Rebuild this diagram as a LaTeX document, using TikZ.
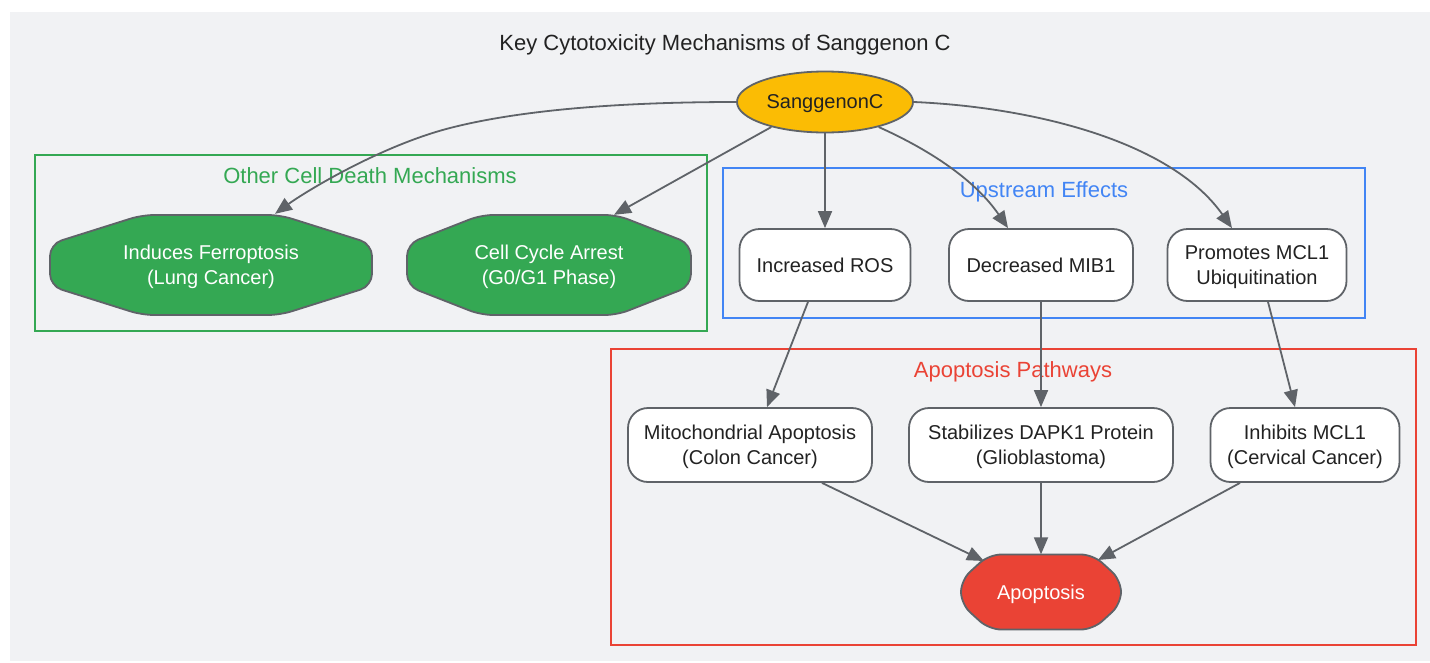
\documentclass[tikz,border=0pt]{standalone}
\usepackage{fontspec}
\setmainfont{Liberation Sans}
\usetikzlibrary{arrows.meta,shapes.geometric,calc}
\definecolor{bgc}{HTML}{F1F2F4}
\definecolor{edgec}{HTML}{5F6368}
\definecolor{txt}{HTML}{222222}
\definecolor{gr}{HTML}{34A853}
\definecolor{bl}{HTML}{4285F4}
\definecolor{rd}{HTML}{EA4335}
\definecolor{yl}{HTML}{FBBC04}
\newcommand\nodefont{\fontsize{20}{25}\selectfont}
\newcommand\bigfont{\fontsize{22}{26}\selectfont}
% octagon: cx, cy, half width, half height, slant dx, half side, fill
\newcommand\octshape[7]{%
  \draw[draw=edgec, line width=1.8pt, fill=#7, rounded corners=12pt]
    (#1-#3,#2-#6) -- (#1-#3+#5,#2-#4) -- (#1+#3-#5,#2-#4) -- (#1+#3,#2-#6)
    -- (#1+#3,#2+#6) -- (#1+#3-#5,#2+#4) -- (#1-#3+#5,#2+#4) -- (#1-#3,#2+#6) -- cycle;}
\begin{document}
\begin{tikzpicture}[x=1pt,y=-1pt,
  box/.style={draw=edgec, line width=1.8pt, fill=white, rounded corners=20pt,
    align=center, font=\nodefont, text=txt, inner sep=0pt, text depth=0pt},
  octtext/.style={align=center, font=\nodefont, text=white, inner sep=0pt, text depth=0pt},
  conn/.style={draw=edgec, line width=1.8pt, -{Triangle[length=17pt,width=14pt]}},
  cluster/.style={line width=1.8pt},
  clabel/.style={font=\bigfont, inner sep=0pt, text depth=0pt}]
\useasboundingbox (0,0) rectangle (1430,662);
\fill[bgc] (10,12) rectangle (1430,661);

% clusters
\draw[cluster, draw=gr] (35,155) rectangle (707,331);
\draw[cluster, draw=bl] (723,168) rectangle (1365,318);
\draw[cluster, draw=rd] (611,349) rectangle (1416,645);
\node[clabel, text=gr] (lgr) at (370,176) {Other Cell Death Mechanisms};
\node[clabel, text=bl] (lbl) at (1044,190) {Upstream Effects};
\node[clabel, text=rd] (lrd) at (1013,370) {Apoptosis Pathways};

% title
\node[clabel, text=txt] (title) at (725,43) {Key Cytotoxicity Mechanisms of Sanggenon C};

% source
\node[ellipse, draw=edgec, line width=1.8pt, fill=yl, minimum width=176pt,
  minimum height=61pt, inner sep=0pt, text depth=0pt, font=\nodefont, text=txt] (S) at (825,102) {SanggenonC};

% octagon nodes
\octshape{211}{265}{161}{50}{92}{21}{gr}
\node[octtext, minimum width=322pt, minimum height=100pt] (ferro) at (211,265) {Induces Ferroptosis\\(Lung Cancer)};
\octshape{549}{265}{142}{50}{74}{21}{gr}
\node[octtext, minimum width=284pt, minimum height=100pt] (cell) at (549,265) {Cell Cycle Arrest\\(G0/G1 Phase)};
\octshape{1041}{592}{80}{37.5}{28}{12}{rd}
\node[octtext, minimum width=160pt, minimum height=75pt] (apop) at (1041,592) {Apoptosis};

% upstream
\node[box, minimum width=171pt, minimum height=72pt] (ros) at (825,265) {Increased ROS};
\node[box, minimum width=184pt, minimum height=72pt] (mib) at (1041,265) {Decreased MIB1};
\node[box, minimum width=179pt, minimum height=72pt] (prom) at (1257,265) {Promotes MCL1\\Ubiquitination};

% apoptosis pathways
\node[box, minimum width=244pt, minimum height=74pt] (mito) at (750,445) {Mitochondrial Apoptosis\\(Colon Cancer)};
\node[box, minimum width=264pt, minimum height=74pt] (dapk) at (1041,445) {Stabilizes DAPK1 Protein\\(Glioblastoma)};
\node[box, minimum width=189pt, minimum height=74pt] (inh) at (1305,445) {Inhibits MCL1\\(Cervical Cancer)};

% connectors
\draw[conn] (S.west) .. controls (620,102) and (520,110) .. (450,128)
  .. controls (380,146) and (305,192) .. ($(ferro.north)+(64,-1)$);
\draw[conn] (S.205) -- ($(cell.north)+(65,0)$);
\draw[conn] (S) -- (ros.north);
\draw[conn] (S.-25) .. controls (930,150) and (975,180) .. ($(mib.north)+(-33,0)$);
\draw[conn] (S.east) .. controls (1030,107) and (1170,140) .. ($(prom.north)+(-25,0)$);

\draw[conn] ($(ros.south)+(-17,0)$) -- ($(mito.north)+(17,0)$);
\draw[conn] (mib.south) -- (dapk.north);
\draw[conn] ($(prom.south)+(11,0)$) -- ($(inh.north)+(-10,0)$);

\draw[conn] ($(mito.south)+(72,0)$) -- ($(apop.center)+(-57,-31)$);
\draw[conn] (dapk.south) -- (apop.north);
\draw[conn] ($(inh.south)+(-65,0)$) -- ($(apop.center)+(57,-32)$);
\end{tikzpicture}
\end{document}
